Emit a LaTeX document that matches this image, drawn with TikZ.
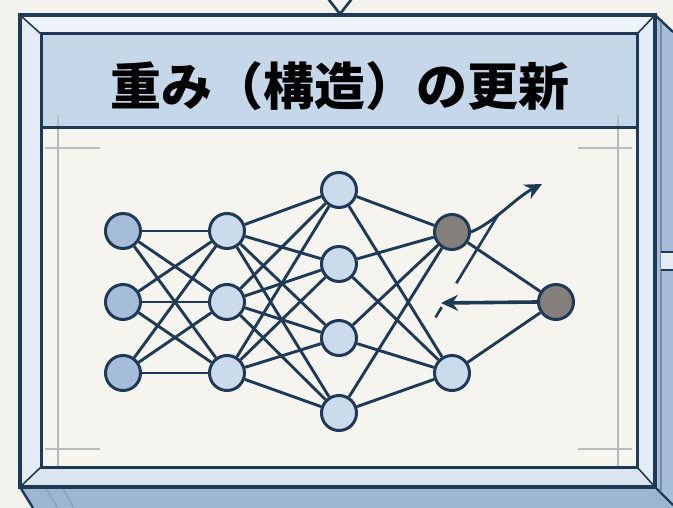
\documentclass[tikz,border=0pt]{standalone}
\usepackage{fontspec}
\newfontfamily\cjk{Noto Sans CJK JP}
\usetikzlibrary{arrows.meta}
\definecolor{bgc}{HTML}{F3F2ED}
\definecolor{dark}{HTML}{1F3A56}
\definecolor{framec}{HTML}{E3EBF4}
\definecolor{bevtop}{HTML}{EEF3F9}
\definecolor{bevside}{HTML}{DCE6F1}
\definecolor{sidec}{HTML}{A6BED9}
\definecolor{slabc}{HTML}{9CB5D1}
\definecolor{titlec}{HTML}{C6D7EA}
\definecolor{contentc}{HTML}{F5F4EF}
\definecolor{guidec}{HTML}{B8BCC0}
\definecolor{nodeA}{HTML}{A5BDD8}
\definecolor{nodeB}{HTML}{CCDBEC}
\definecolor{nodeG}{HTML}{847F7A}
\begin{document}
\begin{tikzpicture}[x=1pt,y=-1pt,
  edge/.style={draw=dark,line width=2.9pt},
  nd/.style={circle,draw=dark,line width=3pt,minimum size=35pt,inner sep=0pt},
  ndA/.style={nd,fill=nodeA},
  ndB/.style={nd,fill=nodeB},
  ndG/.style={nd,fill=nodeG},
  guide/.style={draw=guidec,line width=1.4pt},
  arr/.style={draw=dark,line width=2.9pt,-{Stealth[length=17pt,width=16pt]}}]
\useasboundingbox (0,0) rectangle (673,508);
\fill[bgc] (0,0) rectangle (673,508);
% 3D faces
\fill[slabc] (20,487) -- (655,487) -- (673,505) -- (673,508) -- (33,508) -- cycle;
\fill[sidec] (655,15) -- (673,32) -- (673,505) -- (655,487) -- cycle;
\draw[dark,line width=2.4pt] (655,15) -- (673,32);
\draw[dark,line width=2.4pt] (655,487) -- (673,505);
\draw[dark,line width=2.4pt] (20,487) -- (33,508);
\draw[dark!50,line width=1.2pt] (45,487) -- (58,508) (62,487) -- (74,508);
\draw[dark!60,line width=1.5pt] (661,22) -- (661,492);
\fill[framec] (661,252) rectangle (673,270);
\draw[dark,line width=2.4pt] (661,252) -- (673,252) (661,270) -- (673,270);
% bevelled frame
\fill[framec] (20,15) rectangle (655,487);
\fill[bevtop] (20,15) -- (655,15) -- (637,34) -- (41,34) -- cycle;
\fill[bevside] (20,487) -- (655,487) -- (637,467) -- (41,467) -- cycle;
\draw[dark,line width=1.6pt] (20,15) -- (41,34) (655,15) -- (637,34)
  (20,487) -- (41,467) (655,487) -- (637,467);
\draw[dark,line width=3.6pt] (20,15) rectangle (655,487);
% inner panel
\fill[contentc] (41,34) rectangle (637,467);
\fill[titlec] (41,34) rectangle (637,128);
\draw[guide] (58,115) -- (58,467) (618,115) -- (618,467)
  (45,148) -- (100,148) (578,148) -- (632,148)
  (45,449) -- (100,449) (578,449) -- (632,449);
\draw[dark,line width=3pt] (41,128) -- (637,128);
\draw[dark,line width=3pt] (41,34) rectangle (637,467);
% top arrow
\filldraw[fill=bgc,draw=dark,line width=2.6pt] (326,-4) -- (340,14) -- (354,-4);
% title
\node (title) at (340,86) {\cjk\bfseries\fontsize{51}{54}\selectfont 重み（構造）の更新};
% nodes
\node[ndA] (a1) at (123,231) {};
\node[ndA] (a2) at (123,302) {};
\node[ndA] (a3) at (123,373) {};
\node[ndB] (b1) at (227,231) {};
\node[ndB] (b2) at (227,302) {};
\node[ndB] (b3) at (227,373) {};
\node[ndB] (c1) at (339,190) {};
\node[ndB] (c2) at (339,264) {};
\node[ndB] (c3) at (339,338) {};
\node[ndB] (c4) at (339,413) {};
\node[ndG] (d1) at (452,232) {};
\node[ndB] (d2) at (452,373) {};
\node[ndG] (e1) at (556,302) {};
% edges
\foreach \i in {a1,a2,a3}{\foreach \j in {b1,b2,b3}{\draw[edge] (\i) -- (\j);}}
\foreach \i in {b1,b2,b3}{\foreach \j in {c1,c2,c3,c4}{\draw[edge] (\i) -- (\j);}}
\foreach \i in {c1,c2,c3,c4}{\foreach \j in {d1,d2}{\draw[edge] (\i) -- (\j);}}
\draw[edge] (d1) -- (e1);
\draw[edge] (d2) -- (e1);
% update arrows
\coordinate (tipA) at (542,184);
\coordinate (tipB) at (441,303);
\coordinate (dashS) at (498,215);
\coordinate (dashE) at (429,328);
\draw[arr] (d1.east) .. controls (495,222) and (515,198) .. (tipA);
\draw[arr,line width=3.6pt] (e1.west) -- (tipB);
\draw[dark,line width=2.6pt,dash pattern=on 80pt off 28pt on 12pt off 40pt] (dashS) -- (dashE);
\end{tikzpicture}
\end{document}
